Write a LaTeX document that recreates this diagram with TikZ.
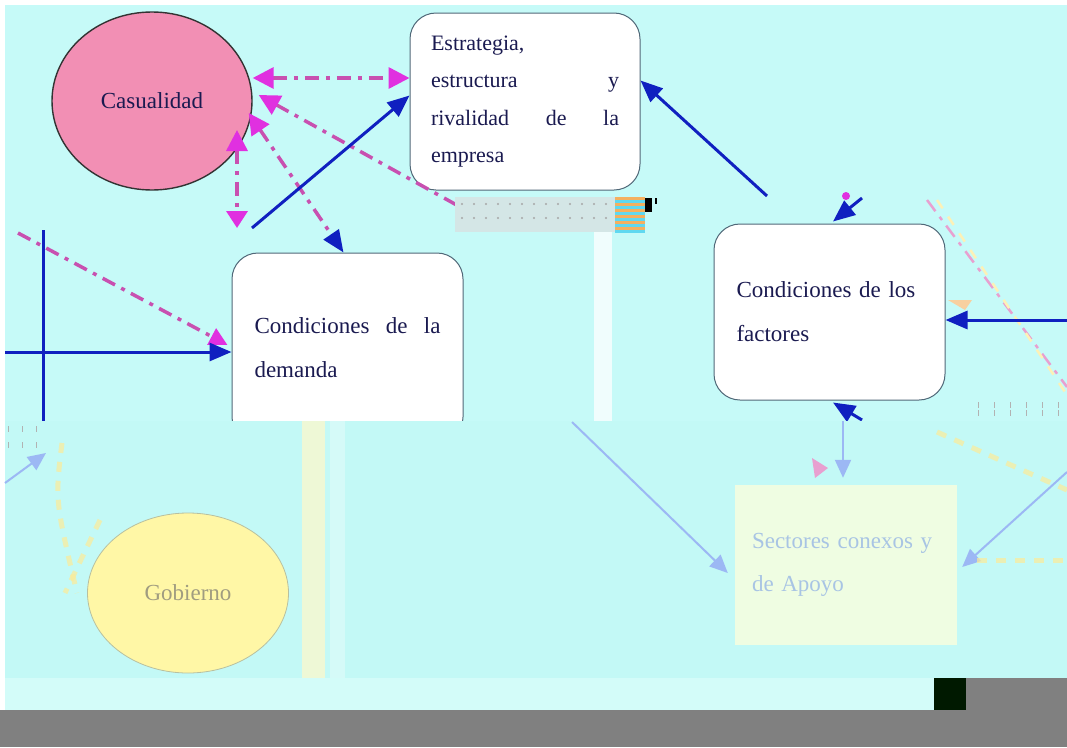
\documentclass[tikz,border=0pt]{standalone}
\usepackage{fontspec}
\setmainfont{Liberation Serif}
\usetikzlibrary{arrows.meta,shapes.geometric}
\definecolor{bgcyan}{HTML}{C6FAF8}
\definecolor{lowcyan}{HTML}{C3F9F6}
\definecolor{stripcyan}{HTML}{D3FCF9}
\definecolor{arrblue}{HTML}{1020C0}
\definecolor{magline}{HTML}{C850B0}
\definecolor{maghead}{HTML}{E030E0}
\definecolor{boxline}{HTML}{506878}
\definecolor{txt}{HTML}{1A1A50}
\definecolor{pinkfill}{HTML}{F28FB4}
\definecolor{govfill}{HTML}{FFF7A6}
\definecolor{govline}{HTML}{B8C0A0}
\definecolor{govtext}{HTML}{A09C80}
\definecolor{sectfill}{HTML}{EFFDE2}
\definecolor{secttext}{HTML}{A8C4E4}
\definecolor{fadeblue}{HTML}{9CB8F4}
\definecolor{fadeyel}{HTML}{FCEB98}
\definecolor{creamband}{HTML}{EEF8D6}
\definecolor{fadepink}{HTML}{E8A0D0}
\definecolor{bandgray}{HTML}{808080}
\definecolor{dotgray}{HTML}{D4E6E6}
\definecolor{stripeor}{HTML}{F4B060}
\definecolor{stripecy}{HTML}{60D8F0}
\begin{document}
\begin{tikzpicture}[x=1pt,y=-1pt,
  roundbox/.style={draw=boxline, line width=1pt, fill=white, rounded corners=26pt,
    text=txt, align=left, font=\fontsize{23}{44}\selectfont},
  blobnode/.style={ellipse, line width=1.4pt},
  bluearrow/.style={draw=arrblue, line width=3pt, -{Triangle[length=22pt,width=18pt]}},
  magdash/.style={draw=magline, line width=3.5pt, dash pattern=on 14pt off 7pt on 4pt off 7pt},
  fadearrow/.style={draw=fadeblue, line width=2pt, -{Triangle[length=18pt,width=16pt]}},
  fadedash/.style={draw=fadeyel, line width=5pt, opacity=0.7, dash pattern=on 10pt off 9pt}]

% page and main panel
\useasboundingbox (0,0) rectangle (1067,747);
\fill[white] (0,0) rectangle (1067,747);
\fill[bgcyan] (5,5) rectangle (1067,710);

% upper blocks
\node[blobnode, draw=black!80, fill=pinkfill, minimum width=200pt, minimum height=178pt,
  text=txt, font=\fontsize{23}{28}\selectfont] (cas) at (152,101) {Casualidad};
\node[roundbox, minimum width=230pt, minimum height=177pt, text width=188pt,
  font=\fontsize{22}{37.5}\selectfont] (estr) at (525,101.5)
  {Estrategia,\\ estructura\hfill y\\ rivalidad\hfill de\hfill la\\ empresa};
\node[roundbox, minimum width=231pt, minimum height=190pt, text width=186pt]
  (dem) at (347.5,348) {Condiciones\hfill de\hfill la\\ demanda};
\node[roundbox, minimum width=231pt, minimum height=176pt, text width=186pt]
  (fac) at (829.5,312) {Condiciones de los\\ factores};

% free ends
\coordinate (v1) at (237,130);
\coordinate (v2) at (237,228);
\coordinate (m1) at (462,208);
\coordinate (m2) at (18,233);
\coordinate (m3) at (927,200);
\coordinate (m4) at (1067,387);
\coordinate (b1) at (252,228);
\coordinate (b2) at (767,196);
\coordinate (b3) at (862,198);
\coordinate (b4) at (1067,320);
\coordinate (b5) at (862,420);
\coordinate (b6) at (5,352);
\coordinate (b7) at (43,230);
\coordinate (b8) at (43,421);

% dash-dot links around Casualidad
\draw[magdash, {Triangle[length=21pt,width=21pt,color=maghead]}-{Triangle[length=21pt,width=21pt,color=maghead]}]
  ([yshift=23pt]cas.east) -- ([yshift=23.5pt]estr.west);
\draw[magdash, {Triangle[length=21pt,width=21pt,color=maghead]}-]
  ([xshift=6pt,yshift=6pt]cas.east) -- (m1);
\draw[magdash, {Triangle[length=21pt,width=21pt,color=maghead]}-{Triangle[length=22pt,width=18pt,color=arrblue]}]
  ([xshift=-4pt,yshift=-12pt]cas.east) -- ([xshift=-4pt]dem.north);
\draw[magdash, {Triangle[length=21pt,width=21pt,color=maghead]}-{Triangle[length=17pt,width=21pt,color=maghead]}]
  (v1) -- (v2);
\draw[magdash, -{Triangle[length=18pt,width=18pt,color=maghead]}]
  (m2) -- ([xshift=-4pt,yshift=3pt]dem.west);
\draw[draw=fadepink, line width=2.5pt, dash pattern=on 14pt off 7pt on 4pt off 7pt] (m3) -- (m4);
\draw[draw=fadeyel!70, line width=2.5pt, dash pattern=on 10pt off 10pt] ([xshift=10pt]m3) -- ([xshift=8pt,yshift=-20pt]m4);

% solid blue links
\draw[bluearrow] (b1) -- ([yshift=6pt]estr.west);
\draw[bluearrow] (b2) -- ([yshift=21pt]estr.east);
\draw[bluearrow] (b3) -- ([xshift=3.5pt,yshift=2pt]fac.north);
\draw[bluearrow] (b4) -- ([yshift=-8pt]fac.east);
\draw[bluearrow] (b5) -- ([xshift=3.5pt,yshift=-2pt]fac.south);
\draw[bluearrow] (b6) -- ([yshift=-4pt]dem.west);
\draw[arrblue, line width=3pt] (b7) -- (b8);
\fill[maghead] (846,196) circle (4pt);
\fill[stripeor!60] (948,300) -- (972,300) -- (965,310) -- cycle;

% damaged strip under the company block
\fill[dotgray] (455,197) rectangle (615,232);
\foreach \i in {0,...,12} {
  \foreach \j in {0,1} {
    \fill[gray!70] (462+\i*12,204+\j*14) circle (1.1pt);
  }
}
\foreach \k in {0,...,5} {
  \fill[stripeor] (615,197+\k*6) rectangle (645,200+\k*6);
  \fill[stripecy] (615,200+\k*6) rectangle (645,203+\k*6);
}
\fill[black] (645,198) rectangle (652,212);
\fill[black] (655,198) rectangle (657,204);
\fill[white, opacity=0.75] (594,232) rectangle (612,421);

% lower, washed-out half
\fill[lowcyan] (5,421) rectangle (1067,678);
\fill[creamband] (302,421) rectangle (325,678);
\fill[white, opacity=0.3] (330,421) rectangle (345,678);
\foreach \i in {0,...,2} {
  \draw[gray!60, line width=0.8pt] (8+\i*14,426) -- (8+\i*14,432);
  \draw[gray!60, line width=0.8pt] (8+\i*14,442) -- (8+\i*14,448);
}
\foreach \i in {0,...,6} {
  \draw[gray!60, line width=0.8pt] (978+\i*16,402) -- (978+\i*16,408);
  \draw[gray!60, line width=0.8pt] (978+\i*16,410) -- (978+\i*16,416);
}

\node[blobnode, draw=govline, line width=0.8pt, fill=govfill, minimum width=201pt,
  minimum height=160pt, text=govtext, font=\fontsize{23}{28}\selectfont]
  (gov) at (188,593) {Gobierno};
\node[draw=none, fill=sectfill, minimum width=222pt, minimum height=160pt,
  text width=188pt, align=left, text=secttext, font=\fontsize{23}{43}\selectfont]
  (sect) at (846,565) {Sectores conexos y\\ de Apoyo};

\coordinate (f1) at (572,422);
\coordinate (f2) at (1067,472);
\coordinate (f3) at (843,421);
\coordinate (f4) at (5,483);
\coordinate (f5) at (46,453);
\coordinate (y1) at (62,443);
\coordinate (y2) at (77,593);
\coordinate (y3) at (100,520);
\coordinate (y4) at (937,432);
\coordinate (y5) at (1067,490);
\coordinate (y6) at (977,560);
\coordinate (y7) at (1067,560);

\draw[fadearrow] (f1) -- ([xshift=-7pt,yshift=-8pt]sect.west);
\draw[fadearrow] (f2) -- ([xshift=5pt,yshift=-2pt]sect.east);
\draw[fadearrow] (f3) -- ([xshift=-3pt,yshift=7pt]sect.north);
\draw[fadearrow] (f4) -- (f5);
\fill[fadepink] (812,458) -- (828,468) -- (815,478) -- cycle;
\draw[fadedash] (y1) .. controls (55,500) .. (y2);
\draw[fadedash] (y3) -- ([xshift=-12pt]y2);
\draw[fadedash] (y4) -- (y5);
\draw[fadedash] (y6) -- (y7);

% bottom bands
\fill[stripcyan] (5,678) rectangle (1067,710);
\fill[bandgray] (0,710) rectangle (1067,747);
\fill[bandgray] (966,678) rectangle (1067,710);
\fill[black!90!green] (934,678) rectangle (966,710);
\end{tikzpicture}
\end{document}
